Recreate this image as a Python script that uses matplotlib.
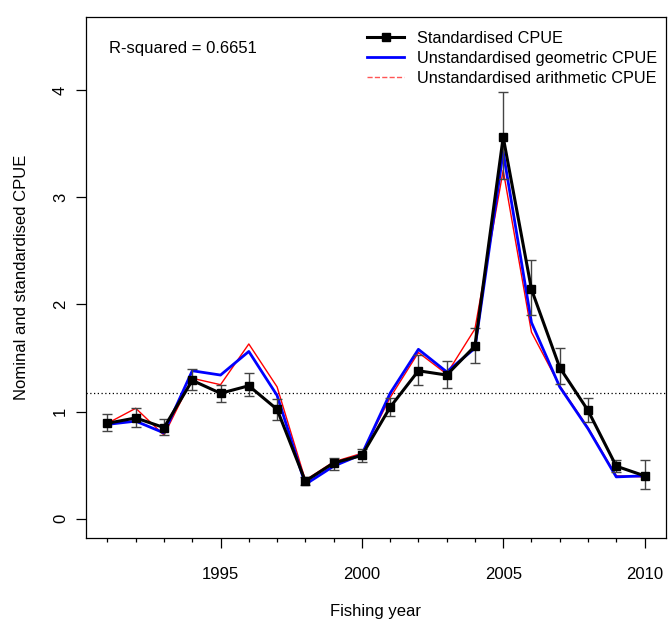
import matplotlib
matplotlib.use("Agg")
import matplotlib.pyplot as plt
from matplotlib.lines import Line2D
from matplotlib.ticker import MultipleLocator

plt.rcParams['font.family'] = ['Liberation Sans', 'DejaVu Sans']

years = list(range(1991, 2011))
std_cpue = [0.89, 0.94, 0.85, 1.29, 1.17, 1.24, 1.02, 0.35, 0.52, 0.59,
            1.04, 1.38, 1.34, 1.61, 3.56, 2.14, 1.41, 1.01, 0.49, 0.40]
std_lower = [0.82, 0.86, 0.78, 1.20, 1.09, 1.14, 0.92, 0.31, 0.45, 0.53,
             0.96, 1.25, 1.22, 1.45, 3.17, 1.90, 1.26, 0.90, 0.44, 0.28]
std_upper = [0.98, 1.03, 0.93, 1.40, 1.25, 1.36, 1.12, 0.39, 0.57, 0.65,
             1.13, 1.53, 1.47, 1.78, 3.98, 2.41, 1.59, 1.13, 0.55, 0.55]
geo_cpue = [0.88, 0.91, 0.80, 1.38, 1.34, 1.56, 1.15, 0.32, 0.49, 0.60,
            1.17, 1.58, 1.37, 1.59, 3.42, 1.83, 1.23, 0.84, 0.39, 0.40]
arith_cpue = [0.89, 1.03, 0.78, 1.31, 1.25, 1.63, 1.23, 0.36, 0.53, 0.61,
              1.13, 1.55, 1.35, 1.77, 3.25, 1.74, 1.24, 0.85, 0.40, 0.39]
mean_line = 1.168
r_squared_text = "R-squared = 0.6651"
legend_labels = ["Standardised CPUE", "Unstandardised geometric CPUE",
                 "Unstandardised arithmetic CPUE"]

W, H = 668, 619
fig = plt.figure(figsize=(W / 100, H / 100), dpi=100)
ax = fig.add_axes([86 / W, (H - 538) / H, (666 - 86) / W, (538 - 17) / H])

yerr = [[s - l for s, l in zip(std_cpue, std_lower)],
        [u - s for s, u in zip(std_cpue, std_upper)]]

ax.axhline(mean_line, color='black', linestyle=(0, (1, 2)), linewidth=0.9, zorder=1)
ax.plot(years, arith_cpue, color='#ff0000', linewidth=1.0, zorder=2)
ax.plot(years, geo_cpue, color='#0000ff', linewidth=2.0, zorder=3)
ax.errorbar(years, std_cpue, yerr=yerr, fmt='none', ecolor='#444444',
            elinewidth=1.0, capsize=3.5, capthick=1.0, zorder=4)
ax.plot(years, std_cpue, color='black', linewidth=2.2, marker='s',
        markersize=6, zorder=5)

ax.set_xlim(1990.24, 2010.76)
ax.set_ylim(-0.18, 4.68)

ax.xaxis.set_major_locator(MultipleLocator(5))
ax.xaxis.set_minor_locator(MultipleLocator(1))
ax.set_yticks([0, 1, 2, 3, 4])
ax.tick_params(axis='x', which='major', length=7, width=0.9, pad=14, labelsize=12)
ax.tick_params(axis='x', which='minor', length=3, width=0.9)
ax.tick_params(axis='y', which='major', length=7, width=0.9, pad=6, labelsize=12)
for lab in ax.get_yticklabels():
    lab.set_rotation(90)
    lab.set_va('center')
for sp in ax.spines.values():
    sp.set_linewidth(0.9)

ax.set_xlabel("Fishing year", fontsize=12, labelpad=16)
ax.set_ylabel("Nominal and standardised CPUE", fontsize=12, labelpad=17)

ax.text(0.04, 0.94, r_squared_text, transform=ax.transAxes, fontsize=12,
        ha='left', va='center')

handles = [
    Line2D([], [], color='black', linewidth=2.2, marker='s', markersize=6),
    Line2D([], [], color='#0000ff', linewidth=2.0),
    Line2D([], [], color='#ff5555', linewidth=1.0, linestyle='--'),
]
ax.legend(handles, legend_labels, loc='upper left',
          bbox_to_anchor=((367 - 86) / (666 - 86), 1 - (31 - 17) / (538 - 17)),
          frameon=False, fontsize=11.7, handlelength=2.3, handletextpad=0.8,
          labelspacing=0.3, borderpad=0, borderaxespad=0)

fig.savefig("out.png", dpi=100)
